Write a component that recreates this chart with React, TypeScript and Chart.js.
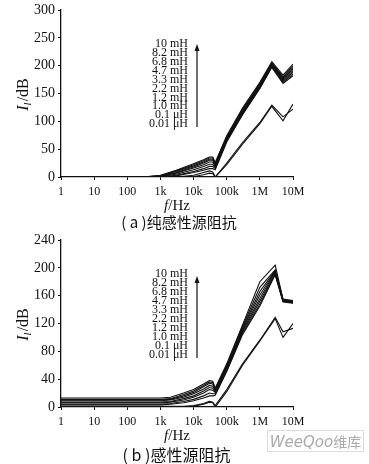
import React, { useEffect, useRef } from "react";
import { Chart, registerables } from "chart.js";

Chart.register(...registerables);

// ---------- data ----------
const seriesLabels = ["10 mH", "8.2 mH", "6.8 mH", "4.7 mH", "3.3 mH", "2.2 mH", "1.2 mH", "1.0 mH", "0.1 μH", "0.01 μH"];
const decadeTicks = [1, 10, 100, 1e3, 1e4, 1e5, 1e6, 1e7];
const decadeLabels = ["1", "10", "100", "1k", "10k", "100k", "1M", "10M"];

// (a) pure inductive source impedance
const freqA = [1, 300, 1000, 3000, 10000, 20000, 30000, 38000, 45000, 100000, 300000, 1000000, 2300000, 5000000, 10000000];
const a10mH = [0, 0, 3, 12, 24, 31, 36, 36, 26, 74, 124, 170, 207, 183, 203];
const a8p2mH = [0, 0, 2, 11, 22, 29, 34, 34, 24, 72, 122, 168, 205, 180, 200];
const a6p8mH = [0, 0, 2, 10, 20, 27, 32, 32, 23, 71, 120, 167, 204, 178, 197];
const a4p7mH = [0, 0, 1, 8, 18, 25, 30, 30, 21, 69, 118, 165, 202, 176, 194];
const a3p3mH = [0, 0, 1, 7, 16, 22, 27, 27, 19, 68, 116, 163, 201, 174, 191];
const a2p2mH = [0, 0, 1, 5, 13, 19, 23, 23, 17, 66, 115, 162, 200, 172, 188];
const a1p2mH = [0, 0, 0, 3, 10, 15, 19, 19, 15, 65, 113, 160, 198, 170, 185];
const a1p0mH = [0, 0, 0, 2, 8, 12, 15, 15, 13, 63, 112, 159, 197, 168, 182];
const a0p1uH = [0, 0, 0, 0, 3, 8, 11, 9, 0, 25, 62, 98, 129, 108, 122];
const a0p01uH = [0, 0, 0, 0, 1, 4, 7, 6, 0, 22, 59, 96, 127, 101, 131];
const seriesA = [a10mH, a8p2mH, a6p8mH, a4p7mH, a3p3mH, a2p2mH, a1p2mH, a1p0mH, a0p1uH, a0p01uH];
const yTicksA = [0, 50, 100, 150, 200, 250, 300];

// (b) inductive source impedance
const freqB = [1, 1000, 2000, 5000, 10000, 20000, 30000, 38000, 45000, 100000, 300000, 1000000, 2900000, 5000000, 10000000];
const b10mH = [13, 13, 14, 20, 25, 33, 38, 37, 27, 62, 118, 180, 204, 155, 153];
const b8p2mH = [11, 11, 12, 18, 23, 31, 36, 35, 26, 60, 116, 172, 197, 154, 152];
const b6p8mH = [10, 10, 11, 16, 21, 29, 34, 33, 25, 58, 114, 166, 196, 154, 152];
const b4p7mH = [9, 9, 10, 14, 19, 26, 31, 30, 24, 57, 112, 161, 195, 153, 151];
const b3p3mH = [7, 7, 8, 12, 16, 23, 28, 27, 22, 55, 110, 156, 194, 153, 151];
const b2p2mH = [6, 6, 7, 10, 14, 20, 25, 24, 21, 54, 108, 152, 192, 152, 150];
const b1p2mH = [4, 4, 5, 8, 11, 16, 20, 19, 19, 52, 106, 148, 191, 152, 150];
const b1p0mH = [3, 3, 4, 6, 9, 13, 16, 16, 17, 51, 104, 145, 190, 151, 149];
const b0p1uH = [1, 1, 1, 1, 2, 5, 8, 7, 2, 25, 62, 96, 129, 108, 113];
const b0p01uH = [0, 0, 0, 0, 1, 4, 7, 6, 0, 22, 60, 95, 127, 100, 120];
const seriesB = [b10mH, b8p2mH, b6p8mH, b4p7mH, b3p3mH, b2p2mH, b1p2mH, b1p0mH, b0p1uH, b0p01uH];
const yTicksB = [0, 40, 80, 120, 160, 200, 240];

// ---------- config ----------
const INK = "#111";

function overlayPlugin(labelTop: number, labelStep: number, arrowTip: number, arrowBottom: number, xTitleBaseline: number) {
  return {
    id: "overlay",
    afterDraw(chart: any) {
      const ctx = chart.ctx as CanvasRenderingContext2D;
      const area = chart.chartArea;
      ctx.save();
      ctx.fillStyle = INK;
      ctx.strokeStyle = INK;
      // series annotation list
      ctx.font = '12px "Liberation Serif"';
      ctx.textAlign = "right";
      ctx.textBaseline = "middle";
      seriesLabels.forEach((t, i) => ctx.fillText(t, 188, labelTop + i * labelStep));
      // arrow
      ctx.lineWidth = 1.2;
      ctx.beginPath();
      ctx.moveTo(197, arrowBottom);
      ctx.lineTo(197, arrowTip + 5);
      ctx.stroke();
      ctx.beginPath();
      ctx.moveTo(197, arrowTip);
      ctx.lineTo(194.5, arrowTip + 7);
      ctx.lineTo(199.5, arrowTip + 7);
      ctx.closePath();
      ctx.fill();
      // y title  I_l/dB (rotated)
      const cy = (area.top + area.bottom) / 2 + 1;
      ctx.save();
      ctx.translate(23, cy);
      ctx.rotate(-Math.PI / 2);
      ctx.textAlign = "left";
      ctx.textBaseline = "alphabetic";
      ctx.font = 'italic 16px "Liberation Serif"';
      const wI = ctx.measureText("I").width;
      ctx.font = 'italic 11px "Liberation Serif"';
      const wl = ctx.measureText("l").width;
      ctx.font = '16px "Liberation Serif"';
      const wR = ctx.measureText("/dB").width;
      let x = -(wI + wl + 1 + wR) / 2;
      ctx.font = 'italic 16px "Liberation Serif"';
      ctx.fillText("I", x, 5);
      x += wI;
      ctx.font = 'italic 11px "Liberation Serif"';
      ctx.fillText("l", x, 8);
      x += wl + 1;
      ctx.font = '16px "Liberation Serif"';
      ctx.fillText("/dB", x, 5);
      ctx.restore();
      // x title f/Hz
      ctx.textAlign = "left";
      ctx.textBaseline = "alphabetic";
      ctx.font = 'italic 15px "Liberation Serif"';
      const wf = ctx.measureText("f").width;
      ctx.font = '15px "Liberation Serif"';
      const wh = ctx.measureText("/Hz").width;
      const cx = (area.left + area.right) / 2;
      let xx = cx - (wf + wh) / 2;
      ctx.font = 'italic 15px "Liberation Serif"';
      ctx.fillText("f", xx, xTitleBaseline);
      xx += wf;
      ctx.font = '15px "Liberation Serif"';
      ctx.fillText("/Hz", xx, xTitleBaseline);
      ctx.restore();
    },
  };
}

function makeConfig(freq: number[], series: number[][], yTicks: number[], padTop: number, xHeight: number, plugin: any) {
  return {
    type: "line",
    data: {
      datasets: series.map((vals, si) => ({
        label: seriesLabels[si],
        data: freq.map((f, i) => ({ x: f, y: vals[i] })),
        borderColor: INK,
        borderWidth: 1.1,
        pointRadius: 0,
        fill: false,
        tension: 0,
      })),
    },
    options: {
      responsive: false,
      animation: false,
      devicePixelRatio: 1,
      layout: { padding: { left: 0, right: 76, top: padTop, bottom: 0 } },
      plugins: { legend: { display: false }, tooltip: { enabled: false }, title: { display: false } },
      scales: {
        x: {
          type: "logarithmic",
          min: 1,
          max: 1e7,
          afterBuildTicks: (s: any) => {
            s.ticks = decadeTicks.map((v) => ({ value: v }));
          },
          afterFit: (s: any) => {
            s.height = xHeight;
            s.paddingLeft = 0;
            s.paddingRight = 0;
          },
          ticks: {
            autoSkip: false,
            maxRotation: 0,
            minRotation: 0,
            padding: 5,
            color: INK,
            font: { family: "Liberation Serif", size: 12 },
            callback: (v: any) => decadeLabels[decadeTicks.indexOf(Number(v))] ?? "",
          },
          grid: { display: true, drawOnChartArea: false, tickLength: 3, color: INK },
          border: { display: true, color: INK, width: 1.3 },
        },
        y: {
          min: yTicks[0],
          max: yTicks[yTicks.length - 1],
          afterBuildTicks: (s: any) => {
            s.ticks = yTicks.map((v) => ({ value: v }));
          },
          afterFit: (s: any) => {
            s.width = 61;
            s.paddingTop = 0;
            s.paddingBottom = 0;
          },
          ticks: {
            padding: 3,
            color: INK,
            font: { family: "Liberation Serif", size: 14 },
          },
          grid: { display: true, drawOnChartArea: false, tickLength: 3, color: INK },
          border: { display: true, color: INK, width: 1.3 },
        },
      },
    },
    plugins: [plugin],
  };
}

function ChartCanvas({ config, top }: { config: any; top: number }) {
  const ref = useRef<HTMLCanvasElement>(null);
  useEffect(() => {
    const chart = new Chart(ref.current as HTMLCanvasElement, config);
    return () => chart.destroy();
  }, []);
  return (
    <canvas
      ref={ref}
      width={369}
      height={232}
      style={{ position: "absolute", left: 0, top, width: 369, height: 232 }}
    />
  );
}

export default function App() {
  const configA = makeConfig(freqA, seriesA, yTicksA, 10, 55, overlayPlugin(44, 8.9, 44, 127, 210));
  const configB = makeConfig(freqB, seriesB, yTicksB, 8, 57, overlayPlugin(42, 9, 44, 126, 208));
  const cjk = '"Noto Sans CJK SC", sans-serif';
  return (
    <div style={{ position: "fixed", left: 0, top: 0, width: 369, height: 464, background: "#fff", overflow: "hidden" }}>
      <ChartCanvas config={configA} top={0} />
      <ChartCanvas config={configB} top={232} />
      <div
        style={{
          position: "absolute", left: 0, width: 358, top: 211, height: 20, lineHeight: "20px",
          textAlign: "center", font: `15px ${cjk}`, color: INK, whiteSpace: "nowrap",
        }}
      >
        ( a )纯感性源阻抗
      </div>
      <div
        style={{
          position: "absolute", left: 0, width: 353, top: 442, height: 20, lineHeight: "20px",
          textAlign: "center", font: `16px ${cjk}`, color: INK, whiteSpace: "nowrap",
        }}
      >
        ( b )感性源阻抗
      </div>
      <div
        style={{
          position: "absolute", left: 267, top: 430, width: 95, height: 20, lineHeight: "20px",
          border: "1px solid #ddd", color: "#aaa", textAlign: "center", whiteSpace: "nowrap",
          font: `italic 15px ${'"DejaVu Sans", sans-serif'}`,
        }}
      >
        WeeQoo<span style={{ fontStyle: "normal", fontFamily: cjk, fontSize: 14 }}>维库</span>
      </div>
    </div>
  );
}
